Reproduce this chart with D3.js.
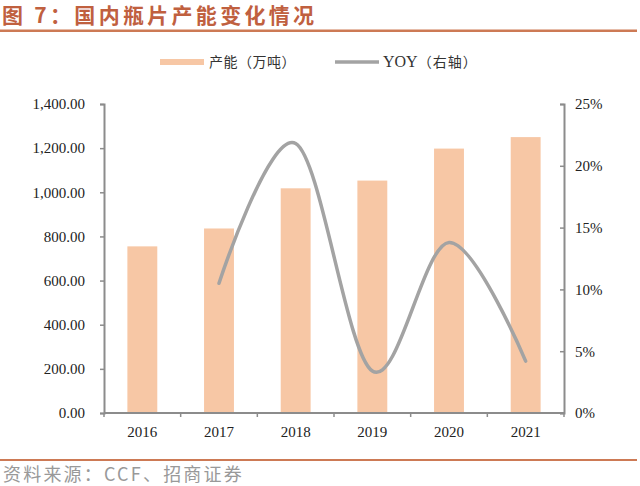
<!DOCTYPE html>
<html><head><meta charset="utf-8">
<script src="https://cdn.jsdelivr.net/npm/d3@7/dist/d3.min.js"></script>
<style>body{margin:0;background:#fff}svg{display:block}</style>
</head><body>
<svg id="c" width="640" height="486"></svg>
<script>
const categories = ["2016","2017","2018","2019","2020","2021"];
const capacity = [755, 836, 1018, 1053, 1198, 1250];
const yoyYears = ["2017","2018","2019","2020","2021"];
const yoy = [0.105, 0.218, 0.034, 0.138, 0.042];
const leftTicks = [0,200,400,600,800,1000,1200,1400];
const rightTicks = [0,0.05,0.10,0.15,0.20,0.25];
const titleText = "图 7：国内瓶片产能变化情况";
const legendBar = "产能（万吨）";
const legendLine = "YOY（右轴）";
const sourceText = "资料来源：CCF、招商证券";

const svg = d3.select("#c");
const L = 104, R = 564, T = 104, B = 413;
const serif = "'Liberation Serif','Times New Roman',serif";
const cjk = "'Noto Sans CJK SC',sans-serif";

svg.append("text").attr("x",2).attr("y",23).text(titleText)
  .attr("font-family",cjk).attr("font-weight","bold").attr("font-size",21).attr("letter-spacing",3.3).attr("fill","#C0603F");
svg.append("rect").attr("x",0).attr("y",29.5).attr("width",637).attr("height",2.5).attr("fill","#CD7A55");

const x = d3.scaleBand().domain(categories).range([L,R]).paddingInner(0.61).paddingOuter(0.305);
const xb = d3.scaleBand().domain(categories).range([L,R]);
const y = d3.scaleLinear().domain([0,1400]).range([B,T]);
const y2 = d3.scaleLinear().domain([0,0.25]).range([B,T]);

svg.append("g").selectAll("rect").data(categories).join("rect")
  .attr("x",d=>x(d)).attr("width",x.bandwidth())
  .attr("y",(d,i)=>y(capacity[i])).attr("height",(d,i)=>B-y(capacity[i]))
  .attr("fill","#F7C7A5");

const line = d3.line().x((d,i)=>xb(yoyYears[i])+xb.bandwidth()/2).y(d=>y2(d)).curve(d3.curveCardinal.tension(0));
svg.append("path").datum(yoy).attr("d",line).attr("fill","none").attr("stroke","#A3A3A3").attr("stroke-width",3.5).attr("stroke-linecap","round");

const axColor = "#8C8C8C";
const gl = svg.append("g").attr("transform",`translate(${L},0)`)
  .call(d3.axisLeft(y).tickValues(leftTicks).tickSize(4).tickPadding(15).tickFormat(d3.format(",.2f")));
const gr = svg.append("g").attr("transform",`translate(${R},0)`)
  .call(d3.axisRight(y2).tickValues(rightTicks).tickSize(-4).tickPadding(11).tickFormat(d3.format(".0%")));
const gb = svg.append("g").attr("transform",`translate(0,${B})`)
  .call(d3.axisBottom(xb).tickSize(0).tickPadding(13));
svg.append("g").selectAll("line").data(d3.range(categories.length+1)).join("line")
  .attr("x1",i=>L+i*xb.step()).attr("x2",i=>L+i*xb.step()).attr("y1",B).attr("y2",B+4).attr("stroke",axColor).attr("stroke-width",1.5);
[gl,gr,gb].forEach(g=>{
  g.select(".domain").attr("stroke",axColor).attr("stroke-width",2);
  g.selectAll(".tick line").attr("stroke",axColor).attr("stroke-width",1.5);
  g.selectAll("text").attr("font-family",serif).attr("font-size",15).attr("fill","#222");
});
gb.select(".domain").attr("d",`M${L},0H${R}`);

// legend
const ly = 62;
svg.append("rect").attr("x",160).attr("y",ly-3).attr("width",44).attr("height",6).attr("fill","#F7C7A5");
svg.append("text").attr("x",209).attr("y",ly+5).text(legendBar).attr("font-family",cjk).attr("font-size",14).attr("letter-spacing",0.5).attr("fill","#333");
svg.append("line").attr("x1",335).attr("x2",379).attr("y1",ly).attr("y2",ly).attr("stroke","#A3A3A3").attr("stroke-width",3.5);
const lt = svg.append("text").attr("x",383).attr("y",ly+5).attr("font-size",15).attr("fill","#333");
lt.append("tspan").text("YOY").attr("font-family",serif).attr("font-size",16);
lt.append("tspan").text("（右轴）").attr("font-family",cjk).attr("font-size",14).attr("letter-spacing",1);

// footer
svg.append("rect").attr("x",0).attr("y",459).attr("width",637).attr("height",2).attr("fill","#CD7A55");
svg.append("text").attr("x",3).attr("y",481).text(sourceText).attr("font-family",cjk).attr("font-size",18).attr("letter-spacing",2.2).attr("fill","#999");
</script>
</body></html>
